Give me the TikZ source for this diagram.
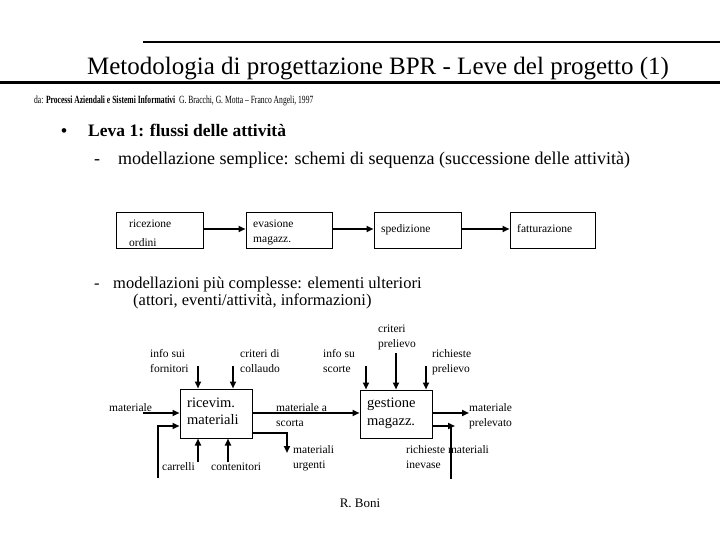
\documentclass[tikz,border=0pt]{standalone}
\usepackage{fontspec}
\usepackage{graphicx}
\setmainfont{Liberation Serif}
\usetikzlibrary{arrows.meta}
\newcommand{\fs}[1]{\fontsize{#1}{#1}\selectfont}
\tikzset{
  lbl/.style={anchor=base west, inner sep=0pt, font=\fs{11.5}},
  boxlbl/.style={anchor=base west, inner sep=0pt, font=\fs{14.5}},
  seqlbl/.style={anchor=base west, inner sep=0pt, font=\fs{11.5}},
  flow/.style={line width=2pt, -{Triangle[length=7pt,width=6pt]}},
  plain/.style={line width=2pt},
}
\begin{document}
\begin{tikzpicture}[x=1pt,y=-1pt]
\useasboundingbox (0,0) rectangle (720,540);
% rules
\coordinate (r1a) at (143,42); \coordinate (r1b) at (720,42);
\draw[line width=2.2pt] (r1a) -- (r1b);
\coordinate (r2a) at (0,83); \coordinate (r2b) at (720,83);
\draw[line width=3pt] (r2a) -- (r2b);
\node[anchor=base, inner sep=0pt, font=\fs{25}] (title) at (378,75) {Metodologia di progettazione BPR - Leve del progetto (1)};
\node[anchor=base west, inner sep=0pt, font=\fs{11}] (src) at (34,104) {\scalebox{0.69}[1]{da: \textbf{Processi Aziendali e Sistemi Informativi} \ G. Bracchi, G. Motta -- Franco Angeli, 1997}};
% bullets
\node[anchor=base west, inner sep=0pt, font=\fs{17}] (bul) at (61,137) {\textbf{\symbol{"2022}}};
\node[anchor=base west, inner sep=0pt, font=\fs{17.5}\bfseries] (leva) at (88,137) {Leva 1: flussi delle attività};
\node[anchor=base west, inner sep=0pt, font=\fs{18}] (d1) at (94,165) {-};
\node[anchor=base west, inner sep=0pt, font=\fs{18}] (t1) at (118,165) {modellazione semplice: schemi di sequenza (successione delle attività)};
\node[anchor=base west, inner sep=0pt, font=\fs{16.5}] (d2) at (94,288) {-};
\node[anchor=base west, inner sep=0pt, font=\fs{16.5}] (t2) at (113,288) {modellazioni più complesse: elementi ulteriori};
\node[anchor=base west, inner sep=0pt, font=\fs{16.5}] (t2b) at (133,305) {(attori, eventi/attività, informazioni)};
% sequence boxes
\node[draw, line width=1pt, minimum width=87pt, minimum height=35pt, inner sep=0pt] (b1) at (159.5,230.5) {};
\node[draw, line width=1pt, minimum width=86pt, minimum height=35pt, inner sep=0pt] (b2) at (289,230.5) {};
\node[draw, line width=1pt, minimum width=87pt, minimum height=35pt, inner sep=0pt] (b3) at (417.5,230.5) {};
\node[draw, line width=1pt, minimum width=85pt, minimum height=35pt, inner sep=0pt] (b4) at (552.5,230.5) {};
\coordinate (sy) at (0,229);
\draw[flow] (b1.east |- sy) -- (b2.west |- sy);
\draw[flow] (b2.east |- sy) -- (b3.west |- sy);
\draw[flow] (b3.east |- sy) -- (b4.west |- sy);
\node[seqlbl] (q1a) at (129,228) {ricezione};
\node[seqlbl] (q1b) at (129,246) {ordini};
\node[seqlbl] (q2a) at (253,227) {evasione};
\node[seqlbl] (q2b) at (253,243) {magazz.};
\node[seqlbl] (q3) at (381,233) {spedizione};
\node[seqlbl] (q4) at (517,233) {fatturazione};
% lower diagram boxes
\node[draw, line width=1pt, minimum width=72pt, minimum height=49pt, inner sep=0pt] (ric) at (216,413.5) {};
\node[draw, line width=1pt, minimum width=72pt, minimum height=48pt, inner sep=0pt] (ges) at (396,414) {};
\node[boxlbl] (rica) at (187,407) {ricevim.};
\node[boxlbl] (ricb) at (187,424) {materiali};
\node[boxlbl] (gesa) at (367,407) {gestione};
\node[boxlbl] (gesb) at (367,425) {magazz.};
% labels
\node[lbl] (l1a) at (150,357) {info sui};
\node[lbl] (l1b) at (150,372) {fornitori};
\node[lbl] (l2a) at (240,357) {criteri di};
\node[lbl] (l2b) at (240,372) {collaudo};
\node[lbl] (l3a) at (323,357) {info su};
\node[lbl] (l3b) at (323,372) {scorte};
\node[lbl] (l4a) at (378,332) {criteri};
\node[lbl] (l4b) at (378,347) {prelievo};
\node[lbl] (l5a) at (432,357) {richieste};
\node[lbl] (l5b) at (432,372) {prelievo};
\node[lbl] (l6) at (109,411) {materiale};
\node[lbl] (l7a) at (276,411) {materiale a};
\node[lbl] (l7b) at (276,426) {scorta};
\node[lbl] (l8a) at (469,411) {materiale};
\node[lbl] (l8b) at (469,426) {prelevato};
\node[lbl] (l9a) at (293,453) {materiali};
\node[lbl] (l9b) at (293,468) {urgenti};
\node[lbl] (l10a) at (406,453) {richieste materiali};
\node[lbl] (l10b) at (406,468) {inevase};
\node[lbl] (l11) at (162,470) {carrelli};
\node[lbl] (l12) at (211,470) {contenitori};
% arrows into ricevim
\coordinate (a1) at (198,366); \draw[flow] (a1) -- (a1 |- ric.north);
\coordinate (a2) at (233,366); \draw[flow] (a2) -- (a2 |- ric.north);
\coordinate (a3) at (143,413); \draw[flow] (a3) -- (a3 -| ric.west);
\coordinate (f1) at (158,478); \coordinate (f2) at (158,426);
\draw[flow] (f1) -- (f2) -- (f2 -| ric.west);
\coordinate (a4) at (198,462); \draw[flow] (a4) -- (a4 |- ric.south);
\coordinate (a5) at (228,462); \draw[flow] (a5) -- (a5 |- ric.south);
% ricevim -> gestione
\coordinate (m1) at (252,413);
\draw[flow] (m1 -| ric.east) -- (m1 -| ges.west);
\coordinate (u1) at (252,432.5); \coordinate (u2) at (287,432.5); \coordinate (u3) at (287,453);
\draw[flow] (u1 -| ric.east) -- (u2) -- (u3);
% into gestione
\coordinate (g1) at (366,366); \draw[flow] (g1) -- (g1 |- ges.north);
\coordinate (g2) at (396,353); \draw[flow] (g2) -- (g2 |- ges.north);
\coordinate (g3) at (426,366); \draw[flow] (g3) -- (g3 |- ges.north);
\coordinate (o1) at (432,413); \coordinate (o2) at (469,413);
\draw[flow] (o1 -| ges.east) -- (o2);
\coordinate (i1) at (432,426); \coordinate (i2) at (455,426);
\draw[flow] (i1 -| ges.east) -- (i2);
\coordinate (v1) at (451,426); \coordinate (v2) at (451,479);
\draw[plain] (v1) -- (v2);
\node[anchor=base, inner sep=0pt, font=\fs{13}] (boni) at (360,507) {R. Boni};
\end{tikzpicture}
\end{document}
